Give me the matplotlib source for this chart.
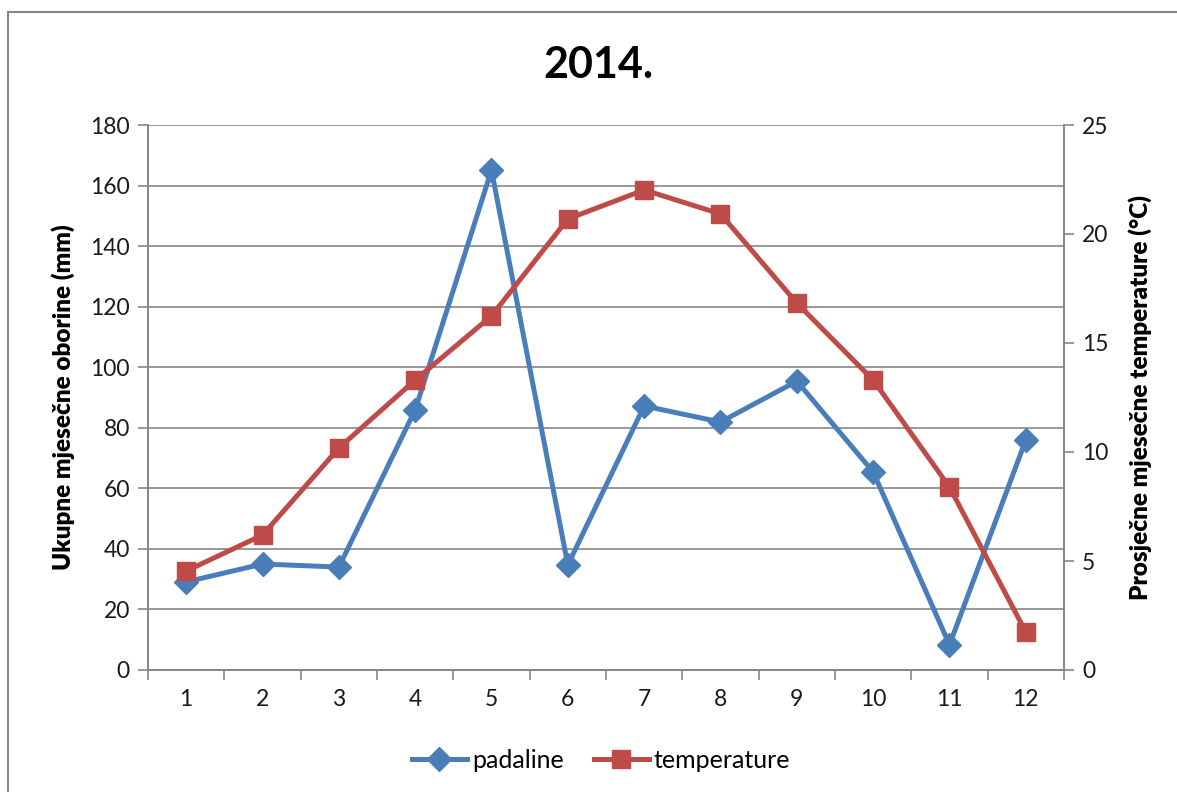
import matplotlib
matplotlib.use("Agg")
import matplotlib.pyplot as plt
from matplotlib.patches import Rectangle
from matplotlib.ticker import FixedLocator

months = [1, 2, 3, 4, 5, 6, 7, 8, 9, 10, 11, 12]
month_labels = [str(m) for m in months]
padaline = [29.1, 35.0, 34.0, 85.9, 165.1, 34.7, 87.2, 81.9, 95.4, 65.4, 8.3, 76.0]
temperature = [4.54, 6.19, 10.18, 13.3, 16.24, 20.69, 22.02, 20.92, 16.83, 13.3, 8.39, 1.74]
left_ticks = [0, 20, 40, 60, 80, 100, 120, 140, 160, 180]
right_ticks = [0, 5, 10, 15, 20, 25]

plt.rcParams['font.family'] = ['Lato', 'DejaVu Sans']
W, H = 1177, 792
fig = plt.figure(figsize=(W / 100, H / 100), dpi=100)
fig.patch.set_facecolor('white')

# outer chart border
fig.patches.append(Rectangle((8 / W, -0.05), 1.2, 1 - 12 / H + 0.05, transform=fig.transFigure,
                             fill=False, edgecolor='#868686', linewidth=1.5))

L, R, T, B = 148, 1064, 125, 670
ax = fig.add_axes([L / W, 1 - B / H, (R - L) / W, (B - T) / H])
ax2 = ax.twinx()

gray = '#868686'
blue = '#4A7EBB'
red = '#BE4B48'
txt = '#1a1a1a'

ax.plot(months, padaline, color=blue, lw=3.6, marker='D', markersize=12.5, label='padaline', zorder=3)
ax2.plot(months, temperature, color=red, lw=3.6, marker='s', markersize=13.5, label='temperature', zorder=3)

ax.set_xlim(0.5, 12.5)
ax.set_ylim(0, 180)
ax2.set_ylim(0, 25)
ax.set_yticks(left_ticks)
ax2.set_yticks(right_ticks)
ax.set_xticks(months)
ax.set_xticklabels(month_labels)
ax.xaxis.set_minor_locator(FixedLocator([m + 0.5 for m in [0] + months]))
ax.tick_params(axis='x', which='major', length=0, pad=14, labelsize=16.5, labelcolor=txt)
ax.tick_params(axis='x', which='minor', length=7, width=1.2, color=gray, direction='out')
ax.tick_params(axis='y', length=7, width=1.2, color=gray, labelsize=16.5, pad=6, labelcolor=txt)
ax2.tick_params(axis='y', length=7, width=1.2, color=gray, labelsize=16.5, pad=6, labelcolor=txt)

ax.grid(axis='y', color=gray, lw=1.2)
ax.set_axisbelow(True)
for a in (ax, ax2):
    a.spines['top'].set_visible(False)
    for s in ('left', 'right', 'bottom'):
        a.spines[s].set_color(gray)
        a.spines[s].set_linewidth(1.2)

ax.set_ylabel('Ukupne mjesečne oborine (mm)', fontsize=17.5, fontweight='heavy', labelpad=11, color='black')
ax2.set_ylabel('Prosječne mjesečne temperature (°C)', fontsize=17.5, fontweight='heavy', labelpad=14, color='black')

fig.text(598 / W, 1 - 65 / H, '2014.', ha='center', va='center', fontsize=31, fontweight='bold')

h1, l1 = ax.get_legend_handles_labels()
h2, l2 = ax2.get_legend_handles_labels()
fig.legend(h1 + h2, l1 + l2, loc='center', bbox_to_anchor=(601 / W, 1 - 760 / H), ncol=2,
           frameon=False, fontsize=18, handlelength=2.2, columnspacing=1.2, handletextpad=0.2)

fig.savefig('out.png', dpi=100)
